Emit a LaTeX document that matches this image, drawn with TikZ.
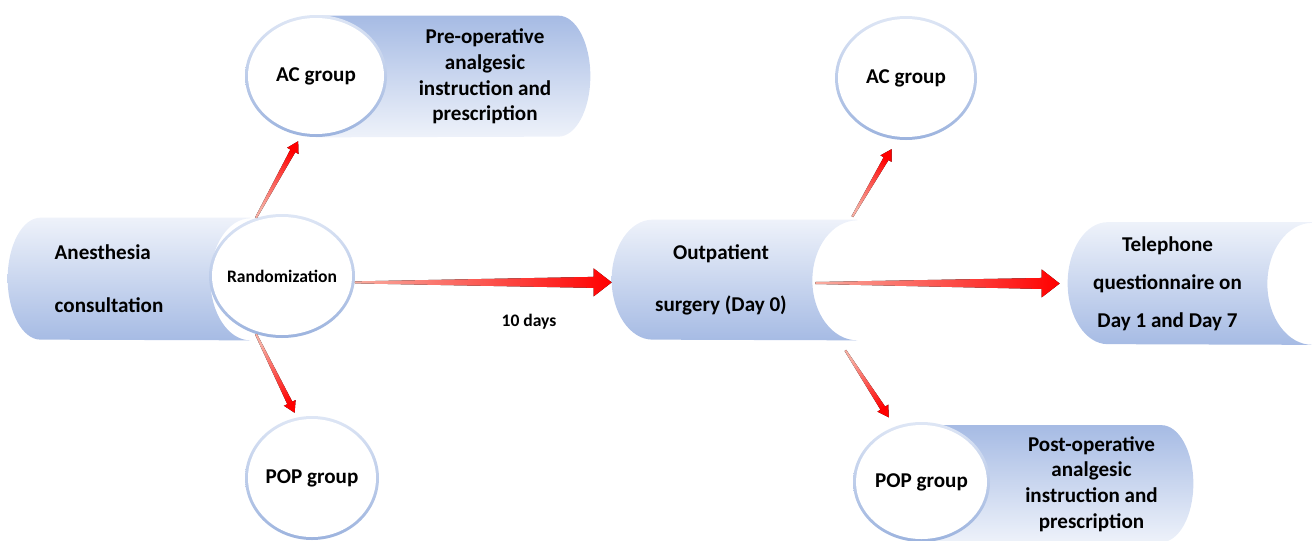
\documentclass[tikz,border=0pt]{standalone}
\usepackage{fontspec}
\setmainfont{Carlito}
\usetikzlibrary{calc,shapes.geometric,backgrounds}

% Colours
\definecolor{bodydk}{RGB}{166,187,228}
\definecolor{bodylt}{RGB}{238,242,250}
\definecolor{ringtop}{RGB}{222,230,245}
\definecolor{ringbot}{RGB}{156,179,222}
\definecolor{arrtail}{RGB}{248,172,160}

% One pixel of the layout
\def\px{0.02cm}

% Tapered arrow: tail, tip, shaft half width, head half width, head length (px)
\newcommand{\tarrow}[5]{%
  \path (#1) coordinate (tA) (#2) coordinate (tB);
  \coordinate (tH) at ($(tB)!#5*\px!(tA)$);
  \pgfmathanglebetweenpoints{\pgfpointanchor{tA}{center}}{\pgfpointanchor{tB}{center}}
  \pgfmathsetmacro\tang{\pgfmathresult+90}
  \fill[arrowfill, shading angle=\tang]
    ($(tA)!1*\px!90:(tB)$) -- ($(tH)!#3*\px!90:(tB)$) -- ($(tH)!#4*\px!90:(tB)$)
    -- (tB) -- ($(tH)!#4*\px!-90:(tB)$) -- ($(tH)!#3*\px!-90:(tB)$)
    -- ($(tA)!1*\px!-90:(tB)$) -- cycle;
}

\begin{document}
\begin{tikzpicture}[x=0.02cm, y=0.02cm,
  big/.style={font=\fontsize{12}{14.7}\selectfont\bfseries, align=center},
  small/.style={font=\fontsize{10}{12}\selectfont\bfseries},
  block/.style={big, inner sep=0pt},
  ring/.style={ellipse, inner sep=0pt, top color=ringtop, bottom color=ringbot,
    path picture={\fill[white] let \p1=($(path picture bounding box.north east)-(path picture bounding box.center)$)
      in (path picture bounding box.center) ellipse [x radius=\x1-3*\px, y radius=\y1-3*\px];}},
  bodyup/.style={top color=bodylt, bottom color=bodydk},
  bodydown/.style={top color=bodydk, bottom color=bodylt},
  arrowfill/.style={left color=arrtail, middle color=red!80, right color=red}]

\useasboundingbox (0,0) rectangle (1312,-541);

% Text of the cylinder blocks
\node[block, align=left, minimum width=202*\px, minimum height=122*\px] (cons) at (109,-279)
  {Anesthesia\\[15.3pt]consultation};
\node[block, minimum width=210*\px, minimum height=121*\px] (pre) at (485,-76.5)
  {Pre-operative\\analgesic\\instruction and\\prescription};
\node[block, minimum width=218*\px, minimum height=120*\px] (surg) at (721,-280)
  {Outpatient\\[15.3pt]surgery (Day 0)};
\node[block, minimum width=199*\px, minimum height=122*\px] (tel) at (1167.5,-283.5)
  {Telephone\\[7pt]questionnaire on\\[7pt]Day 1 and Day 7};
\node[block, minimum width=203*\px, minimum height=117*\px] (post) at (1091.5,-484)
  {Post-operative\\analgesic\\instruction and\\prescription};

% Circles
\node[ring, minimum width=146*\px, minimum height=124*\px,
  label={[small, name=randtxt]center:Randomization}] (rand) at (282,-276) {};
\node[ring, minimum width=142*\px, minimum height=122*\px,
  label={[big, name=acpretxt]center:AC group}] (acpre) at (316,-76) {};
\node[ring, minimum width=134*\px, minimum height=124*\px,
  label={[big, name=popatxt]center:POP group}] (popa) at (312,-478) {};
\node[ring, minimum width=142*\px, minimum height=124*\px,
  label={[big, name=acposttxt]center:AC group}] (acpost) at (906,-78) {};
\node[ring, minimum width=137*\px, minimum height=120*\px,
  label={[big, name=popbtxt]center:POP group}] (popb) at (921.5,-482) {};

% Cylinder bodies behind everything
\begin{scope}[on background layer]
\path[bodyup] ($(cons.north east)+(40,0)$) -- ($(cons.north west)+(33,0)$)
  arc[start angle=90, end angle=270, x radius=33, y radius=61]
  -- ($(cons.south east)+(40,0)$)
  arc[start angle=270, end angle=90, x radius=40, y radius=61] -- cycle;
\path[bodydown] (acpre.center |- pre.north) -- ($(pre.north east)+(-32,0)$)
  arc[start angle=90, end angle=-90, x radius=32, y radius=60.5]
  -- (acpre.center |- pre.south) -- cycle;
\path[bodyup] ($(surg.north east)+(27,0)$) -- ($(surg.north west)+(41,0)$)
  arc[start angle=90, end angle=270, x radius=41, y radius=60]
  -- ($(surg.south east)+(27,0)$)
  arc[start angle=270, end angle=90, x radius=45, y radius=60] -- cycle;
\path[bodyup] ($(tel.north east)+(45,0)$) -- ($(tel.north west)+(40,0)$)
  arc[start angle=90, end angle=270, x radius=40, y radius=61]
  -- ($(tel.south east)+(45,0)$)
  arc[start angle=270, end angle=90, x radius=45, y radius=61] -- cycle;
\path[bodydown] (popb.center |- post.north) -- ($(post.north east)+(-32,0)$)
  arc[start angle=90, end angle=-90, x radius=32, y radius=58.5]
  -- (popb.center |- post.south) -- cycle;
\end{scope}

% Arrows
\tarrow{rand.114}{$(acpre.256)!6*\px!(rand.114)$}{2.8}{6.5}{11}
\tarrow{rand.246}{$(popa.104)!5*\px!(rand.246)$}{2.8}{6.5}{11}
\tarrow{rand.-5}{surg.west |- rand.-5}{5.5}{14}{18}
\tarrow{$(surg.north east)+(22,3)$}{$(acpost.264)!12*\px!(surg.north east)$}{2.8}{6.5}{11}
\tarrow{$(surg.east)+(-15,-3)$}{$(tel.west)+(-8,0)$}{5.5}{14}{18}
\tarrow{$(surg.south east)+(15,-10)$}{$(popb.115)!11*\px!(surg.south east)$}{2.8}{6.5}{11}

% Delay label
\node[small] (days) at (529,-322) {10 days};

\end{tikzpicture}
\end{document}
